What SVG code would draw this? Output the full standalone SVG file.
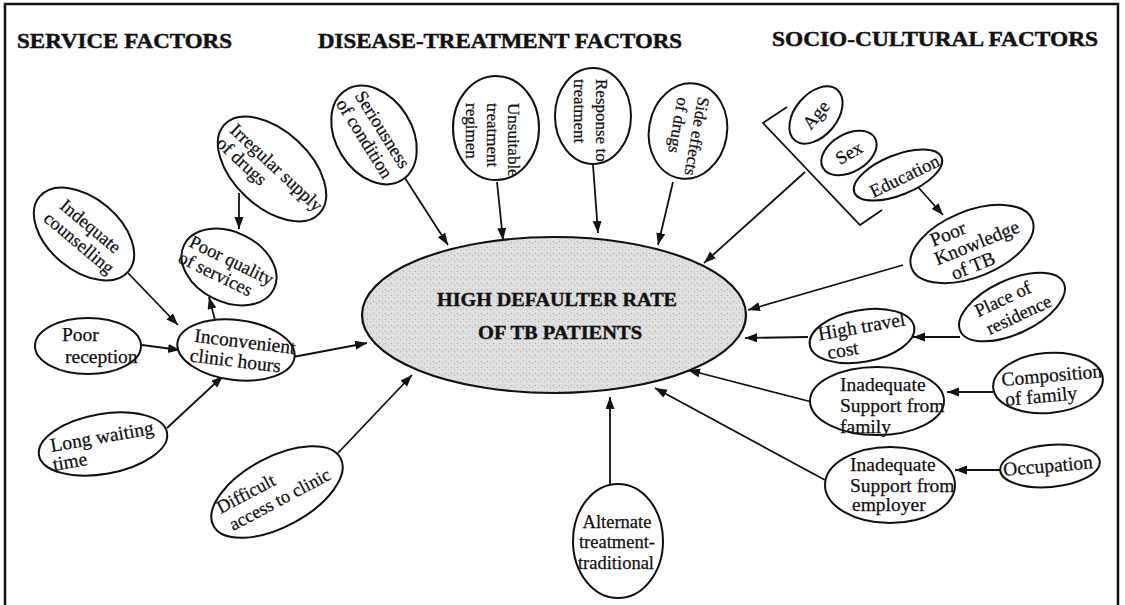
<svg xmlns="http://www.w3.org/2000/svg" width="1125" height="605" viewBox="0 0 1125 605">
<defs>
<marker id="ah" markerUnits="userSpaceOnUse" markerWidth="13" markerHeight="10" refX="12" refY="4.5" orient="auto">
<path d="M0,0 L12,4.5 L0,9 z" fill="#111"/>
</marker>
<pattern id="stip" width="6" height="6" patternUnits="userSpaceOnUse">
<rect width="6" height="6" fill="#dedede"/>
<rect x="1" y="1" width="1" height="1" fill="#a8a8a8"/>
<rect x="4" y="3" width="1" height="1" fill="#b8b8b8"/>
<rect x="2" y="5" width="1" height="1" fill="#f2f2f2"/>
</pattern>
<style>
.nd{fill:#fff;stroke:#111;stroke-width:2}
.t{font-family:"Liberation Serif","Times New Roman",serif;font-size:19.5px;fill:#111;stroke:#111;stroke-width:0.25}
.d{font-family:"Liberation Serif","Times New Roman",serif;font-size:18.5px;fill:#111;stroke:#111;stroke-width:0.25}
.tv{font-family:"Liberation Serif","Times New Roman",serif;font-size:17px;fill:#111;stroke:#111;stroke-width:0.25}
.h{font-family:"Liberation Serif","Times New Roman",serif;font-size:22px;font-weight:bold;fill:#111;stroke:#111;stroke-width:0.5}
.c{font-family:"Liberation Serif","Times New Roman",serif;font-size:19px;font-weight:bold;fill:#111;stroke:#111;stroke-width:0.4}
.cn line,.cn polyline{stroke:#111;stroke-width:1.8;fill:none}
.cn line{marker-end:url(#ah)}
</style>
</defs>
<rect x="0" y="0" width="1125" height="605" fill="#fff"/>
<path d="M5,605 V4 H1118 V605" fill="none" stroke="#111" stroke-width="2.5"/>

<g id="headings">
<text class="h" x="17" y="48" textLength="215" lengthAdjust="spacingAndGlyphs">SERVICE FACTORS</text>
<text class="h" x="318" y="48" textLength="364" lengthAdjust="spacingAndGlyphs">DISEASE-TREATMENT FACTORS</text>
<text class="h" x="772" y="46" textLength="326" lengthAdjust="spacingAndGlyphs">SOCIO-CULTURAL FACTORS</text>
</g>

<g class="cn" id="connectors">
<line x1="128" y1="273" x2="178" y2="325"/>
<line x1="215" y1="320" x2="209" y2="297"/>
<line x1="239" y1="193" x2="239" y2="229"/>
<line x1="142" y1="345" x2="180" y2="350"/>
<line x1="167" y1="428" x2="223" y2="376"/>
<line x1="293" y1="357" x2="367" y2="343"/>
<line x1="338" y1="453" x2="412" y2="375"/>
<line x1="403" y1="175" x2="448" y2="245"/>
<line x1="497" y1="182" x2="503" y2="240"/>
<line x1="593" y1="165" x2="598" y2="233"/>
<line x1="673" y1="182" x2="658" y2="245"/>
<polyline points="787,107 763,123 860,225 882,210"/>
<line x1="805" y1="172" x2="704" y2="263"/>
<line x1="918" y1="187" x2="943" y2="215"/>
<line x1="903" y1="265" x2="748" y2="310"/>
<line x1="960" y1="337" x2="913" y2="337"/>
<line x1="808" y1="337" x2="745" y2="338"/>
<line x1="993" y1="392" x2="947" y2="392"/>
<line x1="812" y1="402" x2="688" y2="370"/>
<line x1="1002" y1="470" x2="955" y2="470"/>
<line x1="825" y1="480" x2="655" y2="388"/>
<line x1="610" y1="484" x2="610" y2="397"/>
</g>

<g id="main">
<ellipse cx="554" cy="315" rx="192" ry="78" fill="url(#stip)" stroke="#111" stroke-width="2.2"/>
<text class="c" x="437" y="306" textLength="240" lengthAdjust="spacingAndGlyphs">HIGH DEFAULTER RATE</text>
<text class="c" x="478" y="339" textLength="164" lengthAdjust="spacingAndGlyphs">OF TB PATIENTS</text>
</g>

<g id="counselling" transform="translate(84,234) rotate(40)">
<ellipse class="nd" rx="58" ry="36"/>
<text class="d" x="0" y="-4" text-anchor="middle">Indequate</text>
<text class="d" x="2" y="16" text-anchor="middle">counselling</text>
</g>

<g id="irregular" transform="translate(272,169) rotate(43)">
<ellipse class="nd" rx="65" ry="38"/>
<text class="d" x="-57" y="2">Irregular supply</text>
<text class="d" x="-58" y="21">of drugs</text>
</g>

<g id="poorquality" transform="translate(229,267) rotate(26)">
<ellipse class="nd" rx="50" ry="35"/>
<text class="d" x="-46" y="-1">Poor quality</text>
<text class="d" x="-49" y="18">of services</text>
</g>

<g id="reception">
<ellipse class="nd" cx="88" cy="346" rx="53" ry="28"/>
<text class="t" x="62" y="341">Poor</text>
<text class="t" x="65" y="363">reception</text>
</g>

<g id="inconvenient" transform="translate(236,350) rotate(7)">
<ellipse class="nd" rx="59" ry="30"/>
<text class="t" x="-43" y="-3">Inconvenient</text>
<text class="t" x="-45" y="17">clinic hours</text>
</g>

<g id="waiting" transform="translate(103,444) rotate(-10)">
<ellipse class="nd" rx="65" ry="30"/>
<text class="t" x="-52" y="-1">Long waiting</text>
<text class="t" x="-53" y="18">time</text>
</g>

<g id="difficult" transform="translate(277,492) rotate(-28)">
<ellipse class="nd" rx="72" ry="35"/>
<text class="d" x="-60" y="-7">Difficult</text>
<text class="d" x="-57" y="14">access to clinic</text>
</g>

<g id="seriousness" transform="translate(374,135) rotate(58)">
<ellipse class="nd" rx="53" ry="38"/>
<text class="d" x="0" y="-4" text-anchor="middle">Seriousness</text>
<text class="d" x="-2" y="16" text-anchor="middle">of condition</text>
</g>

<g id="unsuitable">
<ellipse class="nd" cx="496" cy="128" rx="43" ry="52"/>
<g transform="translate(496,128) rotate(90)">
<text class="tv" x="-25" y="-12">Unsuitable</text>
<text class="tv" x="-25" y="9">treatment</text>
<text class="tv" x="-25" y="30">regimen</text>
</g>
</g>

<g id="response">
<ellipse class="nd" cx="593" cy="116" rx="38" ry="48"/>
<g transform="translate(593,116) rotate(90)">
<text class="tv" x="-37" y="-3">Response to</text>
<text class="tv" x="-37" y="19">treatment</text>
</g>
</g>

<g id="sideeffects" transform="translate(688,131) rotate(100)">
<ellipse class="nd" rx="48" ry="39"/>
<text class="tv" x="-36" y="-4">Side effects</text>
<text class="tv" x="-32" y="16">of drugs</text>
</g>

<g id="age" transform="translate(816,115) rotate(-50)">
<ellipse class="nd" rx="33" ry="21"/>
<text class="d" x="0" y="6" text-anchor="middle">Age</text>
</g>

<g id="sex" transform="translate(849,153) rotate(-30)">
<ellipse class="nd" rx="30" ry="19"/>
<text class="d" x="0" y="6" text-anchor="middle">Sex</text>
</g>

<g id="education" transform="translate(898,175) rotate(-22)">
<ellipse class="nd" rx="47" ry="20"/>
<text class="d" x="-32" y="10" transform="rotate(-4)">Education</text>
</g>

<g id="knowledge" transform="translate(972,244) rotate(-22)">
<ellipse class="nd" rx="65" ry="33"/>
<text class="t" x="-37" y="-12">Poor</text>
<text class="t" x="-40" y="7">Knowledge</text>
<text class="t" x="-30" y="27">of TB</text>
</g>

<g id="residence" transform="translate(1012,307) rotate(-25)">
<ellipse class="nd" rx="57" ry="27"/>
<text class="d" x="-35" y="-5">Place of</text>
<text class="d" x="-32" y="16">residence</text>
</g>

<g id="travel" transform="translate(862,336) rotate(-10)">
<ellipse class="nd" rx="53" ry="26"/>
<text class="t" x="-43" y="-3">High travel</text>
<text class="t" x="-37" y="17">cost</text>
</g>

<g id="composition" transform="translate(1048,383) rotate(-5)">
<ellipse class="nd" rx="55" ry="30"/>
<text class="t" x="-46" y="-1">Composition</text>
<text class="t" x="-44" y="19">of family</text>
</g>

<g id="family">
<ellipse class="nd" cx="877" cy="401" rx="67" ry="34"/>
<text class="t" x="840" y="391">Inadequate</text>
<text class="t" x="840" y="412">Support from</text>
<text class="t" x="840" y="433">family</text>
</g>

<g id="occupation" transform="translate(1050,466) rotate(-5)">
<ellipse class="nd" rx="50" ry="21"/>
<text class="t" x="-47" y="6">Occupation</text>
</g>

<g id="employer">
<ellipse class="nd" cx="890" cy="485" rx="65" ry="38"/>
<text class="t" x="850" y="471">Inadequate</text>
<text class="t" x="850" y="492">Support from</text>
<text class="t" x="852" y="511">employer</text>
</g>

<g id="alternate">
<ellipse class="nd" cx="618" cy="541" rx="45" ry="57"/>
<text class="d" x="617" y="528" text-anchor="middle">Alternate</text>
<text class="d" x="617" y="548" text-anchor="middle">treatment-</text>
<text class="d" x="616" y="569" text-anchor="middle">traditional</text>
</g>
</svg>
